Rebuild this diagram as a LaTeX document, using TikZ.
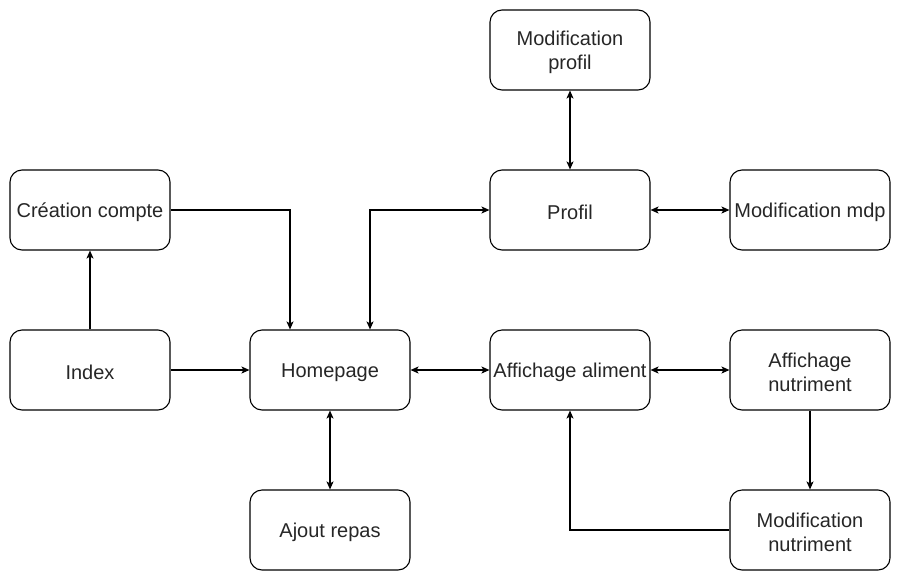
\documentclass[tikz,border=0pt]{standalone}
\usepackage{fontspec}
\setmainfont{Liberation Sans}
\usetikzlibrary{arrows.meta,calc}
\begin{document}
\begin{tikzpicture}[x=1pt,y=-1pt,
  box/.style={draw, line width=1.1pt, rounded corners=12pt, minimum width=160pt, minimum height=80pt, inner sep=0pt},
  txt/.style={align=center, inner sep=0pt, yshift=-2.5pt, font=\fontsize{20}{24}\selectfont, text=black!85},
  conn/.style={line width=1.1pt, -{Stealth[length=8pt,width=7pt,inset=2pt]}},
  biconn/.style={line width=1.1pt, {Stealth[length=8pt,width=7pt,inset=2pt]}-{Stealth[length=8pt,width=7pt,inset=2pt]}}]
\useasboundingbox (0,0) rectangle (901,581);
\node[box, label={[txt]center:Modification\\profil}] (modprofil) at (570,50) {};
\node[box, label={[txt]center:Création compte}] (creation) at (90,210) {};
\node[box, label={[txt]center:Profil}] (profil) at (570,210) {};
\node[box, label={[txt]center:Modification mdp}] (mdp) at (810,210) {};
\node[box, label={[txt]center:Index}] (index) at (90,370) {};
\node[box, label={[txt]center:Homepage}] (home) at (330,370) {};
\node[box, label={[txt]center:Affichage aliment}] (aliment) at (570,370) {};
\node[box, label={[txt]center:Affichage\\nutriment}] (nutriment) at (810,370) {};
\node[box, label={[txt]center:Ajout repas}] (repas) at (330,530) {};
\node[box, label={[txt]center:Modification\\nutriment}] (modnut) at (810,530) {};
\coordinate (homeL) at ($(home.north)+(-40,0)$);
\coordinate (homeR) at ($(home.north)+(40,0)$);
\draw[conn] (creation.east) -| (homeL);
\draw[conn] (index.north) -- (creation.south);
\draw[conn] (index.east) -- (home.west);
\draw[biconn] (homeR) |- (profil.west);
\draw[biconn] (profil.north) -- (modprofil.south);
\draw[biconn] (profil.east) -- (mdp.west);
\draw[biconn] (home.east) -- (aliment.west);
\draw[biconn] (aliment.east) -- (nutriment.west);
\draw[biconn] (home.south) -- (repas.north);
\draw[conn] (nutriment.south) -- (modnut.north);
\draw[conn] (modnut.west) -| (aliment.south);
\end{tikzpicture}
\end{document}
